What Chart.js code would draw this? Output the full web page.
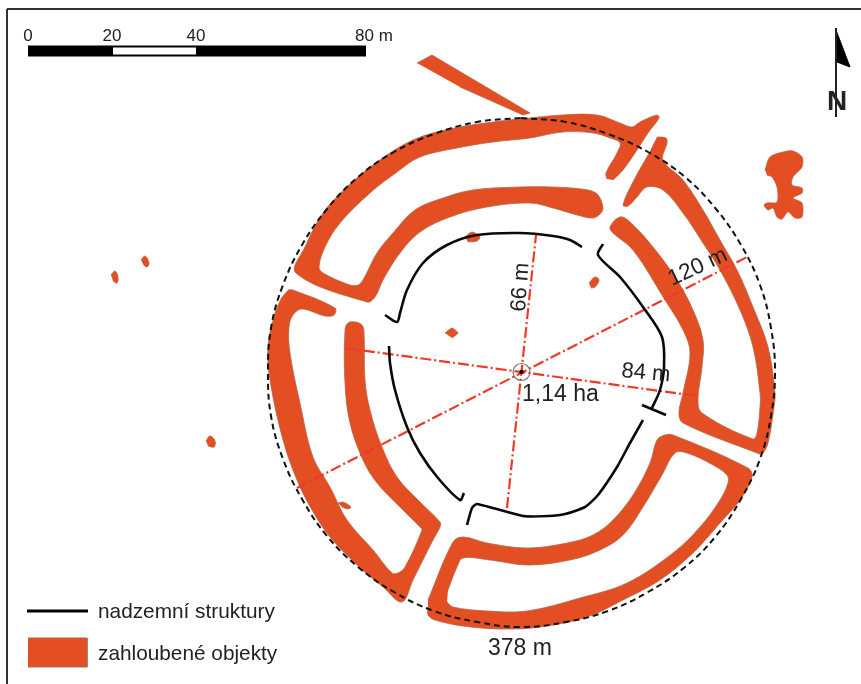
<!DOCTYPE html>
<html><head><meta charset="utf-8">
<style>html,body{margin:0;padding:0;background:#fff}canvas{display:block;filter:blur(0.4px)}</style>
<script src="https://cdn.jsdelivr.net/npm/chart.js@4"></script>
</head><body><canvas id="c" width="861" height="684"></canvas>
<script>
// Map coordinates (x east, y south)
const ditchNW = [[607,179],[606,173],[617,153],[620,143],[610,138],[593,133],[563,132],[530,138],[493,142],[457,148],[420,157],[397,172],[370,193],[340,223],[325,247],[319,267],[323,273],[350,285],[358,285],[363,280],[377,253],[393,233],[415,210],[443,198],[473,190],[520,187],[553,187],[588,190],[598,195],[603,208],[600,214],[593,218],[577,215],[553,208],[530,203],[487,207],[450,217],[420,232],[400,253],[383,280],[375,297],[367,302],[296,273],[305,247],[323,213],[347,187],[377,162],[413,140],[450,129],[493,122],[530,118],[563,115],[597,115],[620,123],[632,127],[640,122],[657,115],[659,118],[648,133],[637,150],[623,170],[613,180]];
const ditchNE = [[657,137],[666,138],[667,143],[663,160],[683,180],[703,210],[720,240],[737,270],[753,307],[768,347],[775,393],[774,407],[768,443],[762,454],[757,453],[683,423],[679,413],[683,393],[690,353],[683,330],[665,300],[633,250],[613,233],[610,227],[620,217],[630,222],[653,247],[677,280],[693,310],[703,340],[702,367],[698,400],[702,413],[753,439],[757,433],[760,407],[760,393],[753,347],[740,310],[720,270],[703,243],[683,213],[663,190],[647,187],[637,197],[628,206],[623,205],[633,182],[648,155]];
const ditchSW = [[288,290],[293,290],[335,308],[334,315],[325,316],[302,309],[293,315],[289,327],[290,353],[300,403],[313,457],[330,487],[347,520],[373,550],[392,573],[398,573],[405,567],[422,530],[420,527],[400,507],[377,483],[363,460],[350,423],[345,383],[345,330],[348,323],[355,322],[362,325],[364,332],[365,380],[370,410],[382,447],[397,477],[420,502],[440,522],[440,527],[433,540],[413,580],[402,602],[383,587],[357,565],[330,537],[312,510],[297,480],[283,440],[270,380],[268,347],[275,313],[282,297]];
const ditchSE = [[428,607],[428,615],[435,620],[463,626],[500,629],[540,627],[587,617],[623,600],[660,580],[693,553],[720,523],[740,500],[752,477],[748,468],[673,435],[665,435],[657,440],[650,463],[633,495],[613,520],[593,535],[567,543],[527,548],[487,543],[463,537],[453,542],[428,600]];
const enclosureSE = [[447,602],[453,607],[487,611],[527,611],[580,598],[627,583],[673,553],[700,527],[720,500],[728,483],[727,475],[713,465],[687,453],[675,453],[662,475],[643,507],[623,535],[600,550],[570,560],[528,565],[490,560],[463,558],[457,567],[448,590]];
const ditchN = [[417,63],[432,55],[530,113],[523,115],[460,87]];
const blobE = [[765,170],[770,157],[783,152],[793,151],[802,157],[802,167],[793,177],[792,185],[802,188],[802,193],[793,198],[802,203],[802,217],[795,218],[788,212],[782,219],[777,217],[773,208],[768,210],[764,205],[767,203],[777,202],[777,187],[772,177],[767,175]];
const pit1 = [[111,275],[115,271],[118,277],[117,283],[113,281]];
const pit2 = [[141,260],[145,256],[149,263],[147,267],[143,264]];
const pit3 = [[206,441],[210,436],[215,441],[214,447],[208,446]];
const pit4 = [[445,333],[452,328],[458,333],[452,338]];
const pit5 = [[589,283],[595,277],[599,280],[595,287],[591,288]];
const pit6 = [[338,503],[343,502],[351,507],[348,509],[342,507]];
const pit7 = [[465,237],[472,232],[480,237],[477,241],[468,242]];
const wallNW = [[385,315],[397,322],[400,313],[407,290],[423,263],[447,245],[477,235],[520,233],[553,236],[570,240],[582,247]];
const wallNE = [[603,244],[598,255],[620,277],[643,307],[662,337],[664,367],[660,390],[652,408]];
const wallBar = [[642,405],[666,415]];
const wallSE = [[643,420],[630,443],[617,467],[598,495],[585,507],[565,514],[548,516],[523,516],[477,504],[472,508],[467,525]];
const wallSW = [[389,346],[390,363],[395,390],[407,427],[420,453],[438,478],[460,500],[464,493]];
const centre = [[521.5,372]];
const radius120 = [[297,488],[747,257]];
const radius84 = [[345,348],[697,396]];
const radius66 = [[507,508],[536,235]];
const perimeter = [[521,118],[566,122],[608,134],[648,152],[685,177],[716,209],[741,245],[760,285],[771,328],[775,372],[771,416],[760,459],[741,499],[716,536],[685,567],[648,592],[608,611],[566,622],[521,627],[477,622],[434,611],[394,592],[358,567],[327,536],[302,499],[283,459],[271,416],[268,372],[271,328],[283,285],[302,245],[327,209],[358,177],[394,152],[434,134],[477,122],[521,118]];
const scaleBar = [[28,51],[366,51]];
const scaleWhite = [[113,51],[196,51]];
const northStaff = [[836,28],[836,117]];
const northHead = [[836,30],[850,67],[837,62]];
const legendLine = [[27,611],[88,611]];
const legendSwatch = [[28,638],[87,638],[87,667],[28,667]];
const frameTop = [[7,9],[861,9]];
const frameLeft = [[7,9],[7,684]];
const scaleLabels = ['0','20','40','80 m'];
const legendLabels = ['nadzemní struktury','zahloubené objekty'];
const measureLabels = ['66 m','120 m','84 m','1,14 ha','378 m'];
const northLabel = 'N';

const ORANGE = '#e34f22', EDGE = '#b0684f', RED = '#ec3a2a', INK = '#222222';
const pts = a => a.map(p => ({x: p[0], y: p[1]}));
const shape = (a, t = 0.36, fillColor = ORANGE, order = 50) => ({data: pts(a), showLine: true, fill: 'shape', backgroundColor: fillColor, borderColor: EDGE, borderWidth: 0.8, tension: t, pointRadius: 0, order});
const line = (a, color, w, t, dash, order) => ({data: pts(a), showLine: true, fill: false, borderColor: color, borderWidth: w, tension: t, borderDash: dash || [], pointRadius: 0, order: order});

const datasets = [
  shape(ditchNW), shape(ditchNE), shape(ditchSW), shape(ditchSE), shape(enclosureSE, 0.36, '#ffffff', 45), shape(ditchN, 0), shape(blobE, 0.3),
  shape(pit1, 0.4), shape(pit2, 0.4), shape(pit3, 0.4), shape(pit4, 0.2), shape(pit5, 0.4), shape(pit6, 0.3), shape(pit7, 0.3),
  line(perimeter, '#111', 2, 0.4, [6, 4], 30),
  line(radius120, RED, 2.2, 0, [11, 3, 2, 3], 20),
  line(radius84, RED, 2.2, 0, [11, 3, 2, 3], 20),
  line(radius66, RED, 2.2, 0, [11, 3, 2, 3], 20),
  line(wallNW, '#0a0a0a', 2.6, 0.3, [], 10), line(wallNE, '#0a0a0a', 2.6, 0.3, [], 10), line(wallBar, '#0a0a0a', 2.6, 0, [], 10),
  line(wallSE, '#0a0a0a', 2.6, 0.2, [], 10), line(wallSW, '#0a0a0a', 2.6, 0.3, [], 10),
  {data: pts(centre), pointRadius: 8.5, pointBackgroundColor: 'rgba(0,0,0,0)', pointBorderColor: '#777', pointBorderWidth: 1.2, order: 5},
  {data: pts(centre), pointRadius: 2, pointStyle: 'rect', pointBackgroundColor: '#000', pointBorderColor: '#000', order: 4},
  line(scaleBar, '#000', 11, 0, [], 8), line(scaleWhite, '#fff', 7, 0, [], 7),
  line(northStaff, '#222', 2, 0, [], 8),
  {data: pts(northHead), showLine: true, fill: 'shape', backgroundColor: '#000', borderColor: '#000', borderWidth: 1, tension: 0, pointRadius: 0, order: 8},
  line(legendLine, '#000', 3, 0, [], 8),
  {data: pts(legendSwatch), showLine: true, fill: 'shape', backgroundColor: ORANGE, borderColor: EDGE, borderWidth: 1, tension: 0, pointRadius: 0, order: 8},
  line(frameTop, '#333', 2, 0, [], 9), line(frameLeft, '#333', 2, 0, [], 9)
];

const textLayer = {
  id: 'textLayer',
  afterDatasetsDraw(chart) {
    const {ctx, scales: {x, y}} = chart;
    const put = (s, px, py, size, align, rot, weight) => {
      ctx.save();
      ctx.translate(x.getPixelForValue(px), y.getPixelForValue(py));
      ctx.rotate((rot || 0) * Math.PI / 180);
      ctx.font = (weight || 'normal') + ' ' + size + 'px "Liberation Sans", Arial, sans-serif';
      ctx.fillStyle = INK;
      ctx.textAlign = align;
      ctx.textBaseline = 'alphabetic';
      ctx.fillText(s, 0, 0);
      ctx.restore();
    };
    put(scaleLabels[0], 28, 41, 17, 'center');
    put(scaleLabels[1], 112, 41, 17, 'center');
    put(scaleLabels[2], 196, 41, 17, 'center');
    put(scaleLabels[3], 355, 41, 17, 'left');
    put(legendLabels[0], 98, 618, 20.8, 'left');
    put(legendLabels[1], 98, 660, 20.8, 'left');
    put(measureLabels[0], 525, 312, 22, 'left', -86);
    put(measureLabels[1], 672, 286, 22.5, 'left', -25);
    put(measureLabels[2], 621, 377, 22, 'left', 5);
    put(measureLabels[3], 522, 401, 23, 'left');
    put(measureLabels[4], 488, 655, 23, 'left');
    put(northLabel, 837, 110, 28, 'center', 0, 'bold');
  }
};

new Chart(document.getElementById('c'), {
  type: 'scatter',
  data: {datasets},
  plugins: [textLayer],
  options: {
    responsive: false, animation: false, events: [],
    layout: {padding: 0, autoPadding: false},
    plugins: {legend: {display: false}, tooltip: {enabled: false}, title: {display: false}},
    scales: {
      x: {type: 'linear', min: 0, max: 861, display: false},
      y: {type: 'linear', min: 0, max: 684, reverse: true, display: false}
    }
  }
});
</script></body></html>
